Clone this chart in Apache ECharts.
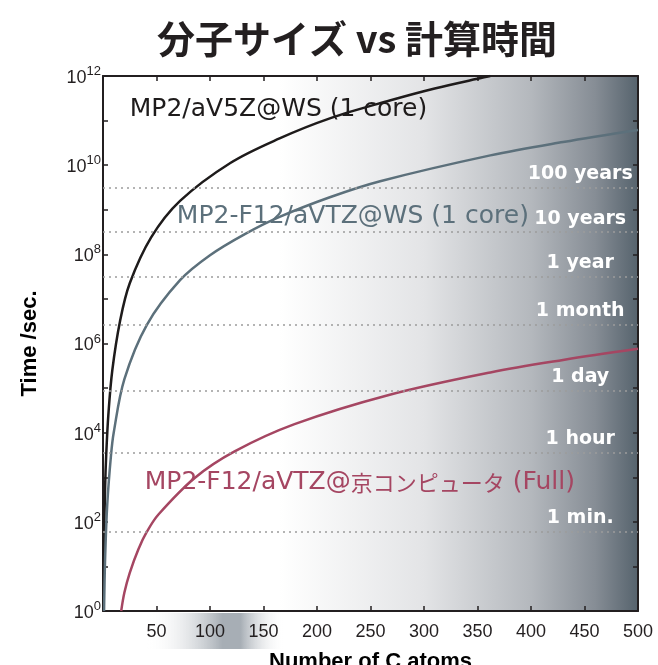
<!DOCTYPE html>
<html>
<head>
<meta charset="utf-8">
<script src="https://cdn.jsdelivr.net/npm/echarts@6/dist/echarts.min.js"></script>
<style>
  html, body { margin: 0; padding: 0; background: #ffffff; }
  #chart { width: 658px; height: 665px; }
</style>
</head>
<body>
<div id="chart"></div>
<script>
// Wall-clock time (seconds) against molecule size (number of C atoms)
const atomsMP2 = [0.4, 1, 2, 3, 5, 8.7, 15.9, 25, 45, 72, 119, 165, 212, 268, 310, 356, 362];
const timeMP2 = [1, 40, 631, 3160, 2.51e4, 2.51e5, 3.16e6, 2.24e7, 2.4e8, 1.58e9, 1.12e10, 3.98e10, 1.12e11, 2.82e11, 5.25e11, 9.33e11, 1e12];

const atomsF12ws = [1, 2, 4, 7.5, 10, 20, 41, 72, 100, 133, 165, 212, 259, 362, 430, 500];
const timeF12ws = [1, 15.8, 251, 3160, 1e4, 1.58e5, 2.63e6, 2.63e7, 9.55e7, 2.88e8, 6.92e8, 1.91e9, 4.37e9, 1.66e10, 3.31e10, 6.17e10];

const atomsF12k = [17, 20, 25, 33, 41, 52, 86, 123, 179, 268, 362, 430, 500];
const timeF12k = [1, 2.6, 7.2, 24, 60, 148, 977, 3800, 1.55e4, 7.08e4, 2.24e5, 4.27e5, 7.59e5];

const curveNames = ['MP2/aV5Z@WS (1 core)', 'MP2-F12/aVTZ@WS (1 core)', 'MP2-F12/aVTZ@京コンピュータ (Full)'];
const curveColors = ['#1e1b1b', '#5c707b', '#a54662'];
// where each curve's name is written (atoms, seconds)
const nameAtoms = [25, 69, 39];
const nameTimes = [1.74e11, 7.1e8, 760];

// reference durations drawn as dotted guides
const spanNames = ['100 years', '10 years', '1 year', '1 month', '1 day', '1 hour', '1 min.'];
const spanSeconds = [3.156e9, 3.156e8, 3.156e7, 2.63e6, 86400, 3600, 60];
const spanLabelAtoms = 446;

// axis ticks
const xTickStep = 50;
const yLabelledExponents = [0, 2, 4, 6, 8, 10, 12];
// the shaded band behind the first x tick labels (atoms)
const bandAtoms = [40, 170];

const AXIS = '#231f20';
const LATIN = "'DejaVu Sans', 'Noto Sans CJK JP', sans-serif";
const HELV = "'Liberation Sans', Arial, sans-serif";

function richName(text) {
  // Japanese runs are set a little smaller than the Latin text
  return text.split(/([\u3000-\u30ff\u4e00-\u9fff]+)/).filter(s => s.length)
    .map(s => /[\u3000-\u30ff\u4e00-\u9fff]/.test(s) ? '{j|' + s + '}' : '{l|' + s + '}').join('');
}

const chart = echarts.init(document.getElementById('chart'), null, { renderer: 'canvas' });

const plotShade = new echarts.graphic.LinearGradient(0, 0, 1, 0, [
  { offset: 0, color: '#ffffff' },
  { offset: 0.33, color: '#ffffff' },
  { offset: 0.6, color: '#e3e4e6' },
  { offset: 0.8, color: '#b4b8bd' },
  { offset: 0.92, color: '#868d95' },
  { offset: 1, color: '#56636d' }
]);

const axisLine = { show: true, onZero: false, lineStyle: { color: AXIS, width: 2 } };
const axisTick = { show: true, inside: true, length: 5, lineStyle: { color: AXIS, width: 1.5 } };

function lineSeries(i, xs, ys) {
  return {
    type: 'line',
    name: curveNames[i],
    data: xs.map((x, k) => [x, ys[k]]),
    showSymbol: false,
    smooth: 0.35,
    lineStyle: { color: curveColors[i], width: 2.5 },
    z: 3,
    silent: true
  };
}

chart.setOption({
  animation: false,
  title: {
    text: '分子サイズ vs 計算時間',
    left: 357,
    textAlign: 'center',
    top: 20,
    padding: 0,
    textStyle: { fontFamily: "'Noto Sans CJK JP', sans-serif", fontWeight: 'bold', fontSize: 38, color: AXIS }
  },
  grid: {
    left: 103, right: 20, top: 76, bottom: 54,
    outerBoundsMode: 'none',
    containLabel: false,
    show: true, backgroundColor: plotShade, borderWidth: 0
  },
  xAxis: [{
    type: 'value', min: 0, max: 500, interval: xTickStep,
    axisLine, axisTick, splitLine: { show: false },
    axisLabel: {
      margin: 12, fontFamily: HELV, fontSize: 18, color: AXIS,
      formatter: v => (v === 0 ? '' : String(v))
    },
    name: 'Number of C atoms', nameLocation: 'middle', nameGap: 40,
    nameTextStyle: { fontFamily: HELV, fontWeight: 'bold', fontSize: 22, color: '#000' }
  }, {
    type: 'value', position: 'top', min: 0, max: 500, interval: xTickStep,
    axisLine, axisTick, splitLine: { show: false }, axisLabel: { show: false }
  }],
  yAxis: [{
    type: 'log', logBase: 10, min: 1, max: 1e12, interval: 1,
    axisLine, axisTick, splitLine: { show: false }, minorTick: { show: false },
    axisLabel: {
      margin: 2,
      formatter: v => {
        const e = Math.round(Math.log10(v));
        return yLabelledExponents.includes(e) ? '{b|10}{e|' + e + '}' : '';
      },
      rich: {
        b: { fontFamily: HELV, fontSize: 18, color: AXIS, lineHeight: 22, verticalAlign: 'bottom' },
        e: { fontFamily: HELV, fontSize: 13, color: AXIS, lineHeight: 14, verticalAlign: 'top' }
      }
    },
    name: 'Time /sec.', nameLocation: 'middle', nameGap: 62, nameRotate: 90,
    nameTextStyle: { fontFamily: HELV, fontWeight: 'bold', fontSize: 22, color: '#000' }
  }, {
    type: 'log', logBase: 10, min: 1, max: 1e12, interval: 1, position: 'right',
    axisLine, axisTick, splitLine: { show: false }, axisLabel: { show: false }
  }],
  series: [
    {
      // dotted duration guides with their white captions
      type: 'scatter',
      data: spanSeconds.map(s => [spanLabelAtoms, s]),
      symbolSize: 0,
      itemStyle: { opacity: 1 },
      silent: true,
      z: 1,
      label: {
        show: true, position: 'top', distance: 4,
        formatter: p => spanNames[p.dataIndex],
        color: '#ffffff', fontFamily: LATIN, fontWeight: 'bold', fontSize: 19
      },
      markLine: {
        silent: true, symbol: 'none',
        label: { show: false },
        lineStyle: { color: '#9c9c9c', type: [2, 4], width: 1.5, opacity: 1 },
        data: spanSeconds.map(s => ({ yAxis: s }))
      }
    },
    {
      // curve captions
      type: 'scatter',
      data: nameAtoms.map((a, i) => ({ value: [a, nameTimes[i]], label: { color: curveColors[i] } })),
      symbolSize: 0,
      itemStyle: { opacity: 1 },
      silent: true,
      z: 2,
      label: {
        show: true, position: 'right', distance: 0,
        formatter: p => richName(curveNames[p.dataIndex]),
        rich: {
          l: { fontFamily: LATIN, fontSize: 25 },
          j: { fontFamily: "'Noto Sans CJK JP', sans-serif", fontSize: 22 }
        }
      }
    },
    lineSeries(0, atomsMP2, timeMP2),
    lineSeries(1, atomsF12ws, timeF12ws),
    lineSeries(2, atomsF12k, timeF12k)
  ]
});

// soft band behind the first x tick labels
const bx0 = chart.convertToPixel({ xAxisIndex: 0 }, bandAtoms[0]);
const bx1 = chart.convertToPixel({ xAxisIndex: 0 }, bandAtoms[1]);
const by = chart.convertToPixel({ yAxisIndex: 0 }, 1);
chart.setOption({
  graphic: [{
    type: 'rect', z: -10, silent: true,
    shape: { x: bx0, y: by + 2, width: bx1 - bx0, height: 36 },
    style: {
      fill: new echarts.graphic.LinearGradient(0, 0, 1, 0, [
        { offset: 0, color: 'rgba(255,255,255,0)' },
        { offset: 0.55, color: '#a7aeb5' },
        { offset: 0.68, color: '#a7aeb5' },
        { offset: 1, color: 'rgba(255,255,255,0)' }
      ])
    }
  }]
});
</script>
</body>
</html>
